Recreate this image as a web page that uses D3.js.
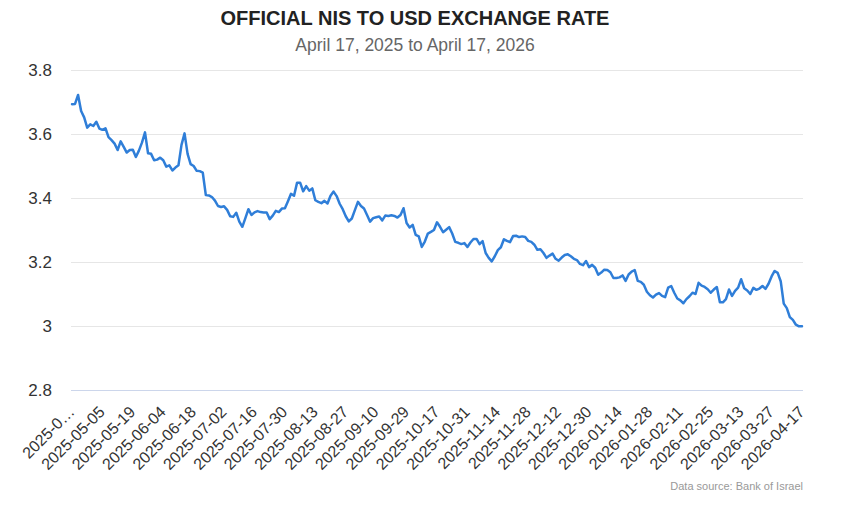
<!DOCTYPE html>
<html>

<head>
  <meta charset="utf-8">
  <title>NIS to USD</title>
  <script src="https://d3js.org/d3.v7.min.js"></script>
  <style>
    body { margin: 0; background: #fff; }
    svg { font-family: "Liberation Sans", Arial, Helvetica, sans-serif; }
  </style>
</head>

<body>
  <script>
    // 1. data (one value per business day)
    var rates = [
      3.693, 3.694, 3.722, 3.672, 3.652, 3.620, 3.630, 3.625, 3.638, 3.617,
      3.613, 3.618, 3.590, 3.581, 3.570, 3.550, 3.577, 3.560, 3.542, 3.550,
      3.551, 3.528, 3.548, 3.573, 3.605, 3.540, 3.538, 3.518, 3.520, 3.526,
      3.518, 3.498, 3.502, 3.486, 3.495, 3.502, 3.566, 3.602, 3.538, 3.506,
      3.500, 3.485, 3.484, 3.479, 3.409, 3.408, 3.403, 3.392, 3.375, 3.372,
      3.374, 3.363, 3.343, 3.341, 3.354, 3.326, 3.310, 3.337, 3.365, 3.347,
      3.355, 3.359, 3.356, 3.355, 3.355, 3.334, 3.345, 3.360, 3.356, 3.367,
      3.368, 3.390, 3.413, 3.407, 3.448, 3.448, 3.421, 3.437, 3.423, 3.430,
      3.393, 3.388, 3.384, 3.391, 3.383, 3.407, 3.420, 3.406, 3.382, 3.365,
      3.343, 3.327, 3.336, 3.362, 3.388, 3.375, 3.367, 3.347, 3.326, 3.337,
      3.340, 3.342, 3.330, 3.345, 3.344, 3.346, 3.344, 3.339, 3.347, 3.368,
      3.322, 3.308, 3.316, 3.285, 3.280, 3.247, 3.264, 3.289, 3.294, 3.300,
      3.324, 3.310, 3.293, 3.301, 3.309, 3.289, 3.263, 3.260, 3.256, 3.259,
      3.247, 3.261, 3.272, 3.272, 3.256, 3.265, 3.228, 3.213, 3.202, 3.218,
      3.237, 3.246, 3.271, 3.266, 3.262, 3.281, 3.282, 3.278, 3.280, 3.278,
      3.266, 3.263, 3.254, 3.238, 3.240, 3.228, 3.213, 3.220, 3.226, 3.210,
      3.204, 3.214, 3.222, 3.224, 3.218, 3.210, 3.206, 3.194, 3.190, 3.203,
      3.184, 3.191, 3.182, 3.160, 3.167, 3.176, 3.175, 3.168, 3.150, 3.150,
      3.152, 3.158, 3.141, 3.161, 3.170, 3.175, 3.141, 3.138, 3.129, 3.107,
      3.096, 3.089, 3.098, 3.103, 3.094, 3.090, 3.120, 3.125, 3.104, 3.086,
      3.080, 3.071, 3.084, 3.093, 3.104, 3.100, 3.135, 3.126, 3.122, 3.115,
      3.104, 3.114, 3.122, 3.074, 3.074, 3.084, 3.114, 3.094, 3.110, 3.120,
      3.146, 3.118, 3.111, 3.100, 3.119, 3.113, 3.117, 3.125, 3.116, 3.132,
      3.155, 3.172, 3.166, 3.140, 3.070, 3.056, 3.028, 3.019, 3.004, 2.999,
      2.999
    ];

    // date labels shown every 10th point
    var tickLabels = [
      "2025-04-17", "2025-05-05", "2025-05-19", "2025-06-04", "2025-06-18",
      "2025-07-02", "2025-07-16", "2025-07-30", "2025-08-13", "2025-08-27",
      "2025-09-10", "2025-09-29", "2025-10-17", "2025-10-31", "2025-11-14",
      "2025-11-28", "2025-12-12", "2025-12-30", "2026-01-14", "2026-01-28",
      "2026-02-11", "2026-02-25", "2026-03-13", "2026-03-27", "2026-04-17"
    ];
    var tickStep = 10;

    var yTicks = [2.8, 3, 3.2, 3.4, 3.6, 3.8];

    var width = 867;
    var height = 507;
    // plot area (note: "top" is reserved on window, so prefixed names)
    var plotLeft = 71, plotRight = 803, plotTop = 70, plotBottom = 390;
    var titleX = 415;

    // 2. svg
    var svg = d3.select("body").append("svg").attr("width", width).attr("height", height);

    // 3. scales
    var xScale = d3.scaleLinear()
      .domain([0, rates.length - 1])
      .range([plotLeft + 1, plotRight - 1]);

    var yScale = d3.scaleLinear()
      .domain([d3.min(yTicks), d3.max(yTicks)])
      .range([plotBottom, plotTop]);

    // 4. y axis + grid
    var yAxis = svg.append("g")
      .attr("transform", "translate(" + plotLeft + ",0)")
      .call(d3.axisLeft(yScale)
        .tickValues(yTicks)
        .tickSize(-(plotRight - plotLeft))
        .tickPadding(19)
        .tickFormat(d3.format("~g")));
    yAxis.select(".domain").remove();
    yAxis.selectAll("line").attr("stroke", "#e6e6e6");
    yAxis.selectAll("text")
      .attr("fill", "#333")
      .style("font-size", "17px");

    // 5. x axis
    var xAxis = svg.append("g")
      .attr("transform", "translate(0," + plotBottom + ")")
      .call(d3.axisBottom(xScale)
        .tickValues(d3.range(0, rates.length, tickStep))
        .tickSize(0)
        .tickFormat(function (d, i) {
          var s = tickLabels[i];
          return i === 0 ? s.slice(0, 6) + "\u2026" : s;
        }));
    xAxis.select(".domain")
      .attr("stroke", "#ccd6eb")
      .attr("d", "M" + plotLeft + ",0.5H" + plotRight);
    xAxis.selectAll("text")
      .attr("y", 0)
      .attr("dy", "0.35em")
      .attr("transform", "translate(-1,19) rotate(-45)")
      .style("text-anchor", "end")
      .style("font-size", "16px")
      .attr("fill", "#333");

    // 6. line
    var line = d3.line()
      .x(function (d, i) { return xScale(i); })
      .y(function (d) { return yScale(d); });

    svg.append("path")
      .datum(rates)
      .attr("d", line)
      .attr("fill", "none")
      .attr("stroke", "#2f7ed8")
      .attr("stroke-width", 2.5)
      .attr("stroke-linejoin", "round")
      .attr("stroke-linecap", "round");

    // 7. titles
    svg.append("text")
      .attr("x", titleX)
      .attr("y", 25)
      .attr("text-anchor", "middle")
      .attr("fill", "#222")
      .style("font-size", "20px")
      .style("font-weight", "bold")
      .text("OFFICIAL NIS TO USD EXCHANGE RATE");

    svg.append("text")
      .attr("x", titleX)
      .attr("y", 51)
      .attr("text-anchor", "middle")
      .attr("fill", "#666")
      .style("font-size", "17.5px")
      .text("April 17, 2025 to April 17, 2026");

    svg.append("text")
      .attr("x", plotRight)
      .attr("y", 490)
      .attr("text-anchor", "end")
      .attr("fill", "#999")
      .style("font-size", "11px")
      .text("Data source: Bank of Israel");
  </script>
</body>

</html>
